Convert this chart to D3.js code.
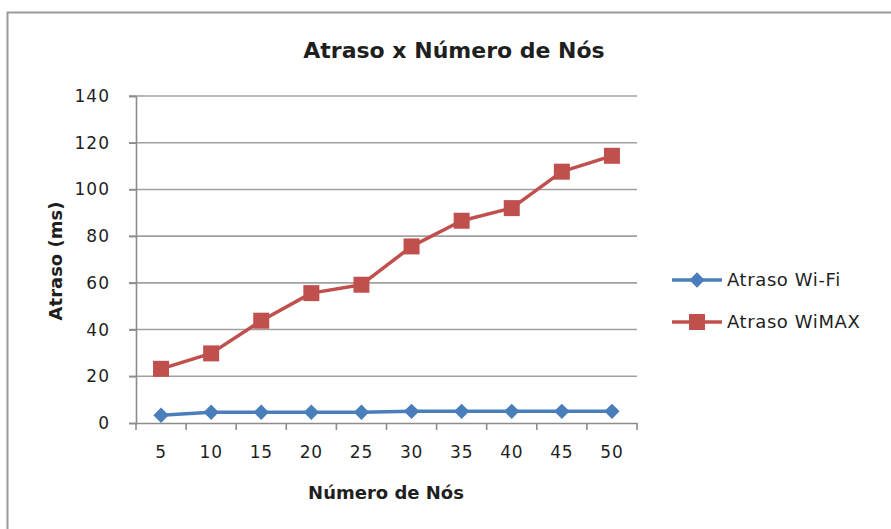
<!DOCTYPE html>
<html><head><meta charset="utf-8">
<script src="https://cdn.jsdelivr.net/npm/d3@7"></script>
<style>
html,body{margin:0;padding:0;background:#fff;}
svg{display:block;}
text{font-family:"DejaVu Sans",sans-serif;fill:#1f1f1f;}
</style></head>
<body><svg id="c" width="891" height="529"></svg>
<script>
const categories = ["5","10","15","20","25","30","35","40","45","50"];
const wifi = [3.3, 4.6, 4.6, 4.6, 4.6, 5.0, 5.0, 5.0, 5.0, 5.0];
const wimax = [23.2, 29.8, 43.8, 55.6, 59.2, 75.6, 86.6, 92.0, 107.6, 114.4];
const yTicks = [0,20,40,60,80,100,120,140];
const seriesNames = ["Atraso Wi-Fi","Atraso WiMAX"];
const chartTitle = "Atraso x Número de Nós";
const xTitle = "Número de Nós";
const yTitle = "Atraso (ms)";

const svg = d3.select("#c");
// outer frame
svg.append("path").attr("d","M891,12.5 H7.5 V529").attr("fill","none").attr("stroke","#9a9a9a").attr("stroke-width",2);

const L=136, R=637, T=96, B=423;
const x = d3.scaleBand().domain(categories).range([L,R]);
const y = d3.scaleLinear().domain([0,140]).range([B,T]);

// gridlines
svg.append("g").selectAll("line").data(yTicks.filter(d=>d>0)).join("line")
  .attr("x1",L-7).attr("x2",R).attr("y1",d=>y(d)).attr("y2",d=>y(d))
  .attr("stroke","#a0a0a0").attr("stroke-width",1.6);

// y axis
const ya = svg.append("g").attr("transform",`translate(${L},0)`)
  .call(d3.axisLeft(y).tickValues(yTicks).tickSize(7).tickPadding(19));
ya.select(".domain").attr("stroke","#8c8c8c").attr("stroke-width",1.6);
ya.selectAll(".tick line").attr("stroke","#8c8c8c").attr("stroke-width",1.6);
ya.selectAll("text").style("font-size","17px").style("letter-spacing","1px").attr("fill","#1f1f1f").style("font-family","DejaVu Sans, sans-serif");

// x axis
const xa = svg.append("g").attr("transform",`translate(0,${B})`)
  .call(d3.axisBottom(x).tickSize(0).tickPadding(23));
xa.select(".domain").attr("stroke","#8c8c8c").attr("stroke-width",1.6);
xa.selectAll("text").style("font-size","17px").style("letter-spacing","0.8px").attr("fill","#1f1f1f").style("font-family","DejaVu Sans, sans-serif");
// boundary ticks
const bounds = categories.map(c=>x(c)).concat([R]);
svg.append("g").selectAll("line").data(bounds).join("line")
  .attr("x1",d=>d).attr("x2",d=>d).attr("y1",B).attr("y2",B+7)
  .attr("stroke","#8c8c8c").attr("stroke-width",1.6);

const cx = c => x(c)+x.bandwidth()/2;
const line = d3.line().x((d,i)=>cx(categories[i])).y(d=>y(d));

const blue="#4a7ebb", red="#c0504d";
svg.append("path").datum(wimax).attr("d",line).attr("fill","none").attr("stroke",red).attr("stroke-width",3.5).attr("stroke-linejoin","round");
svg.append("g").selectAll("rect").data(wimax).join("rect")
  .attr("x",(d,i)=>cx(categories[i])-8).attr("y",d=>y(d)-8).attr("width",16).attr("height",16).attr("fill",red);

svg.append("path").datum(wifi).attr("d",line).attr("fill","none").attr("stroke",blue).attr("stroke-width",3.5).attr("stroke-linejoin","round");
const diamond = d3.symbol().type(d3.symbolDiamond2).size(150);
svg.append("g").selectAll("path").data(wifi).join("path")
  .attr("d",diamond).attr("transform",(d,i)=>`translate(${cx(categories[i])},${y(d)})`).attr("fill",blue);

// legend
const leg = svg.append("g");
const legY=[280,322], cols=[blue,red];
seriesNames.forEach((n,i)=>{
  leg.append("line").attr("x1",672).attr("x2",722).attr("y1",legY[i]).attr("y2",legY[i]).attr("stroke",cols[i]).attr("stroke-width",3.5);
  if(i===0) leg.append("path").attr("d",diamond).attr("transform",`translate(697,${legY[i]})`).attr("fill",cols[i]);
  else leg.append("rect").attr("x",689).attr("y",legY[i]-8).attr("width",16).attr("height",16).attr("fill",cols[i]);
  leg.append("text").attr("x",727).attr("y",legY[i]+6).style("font-size","18px").style("letter-spacing","0.6px").text(n);
});

// titles
svg.append("text").attr("x",454).attr("y",58).attr("text-anchor","middle").style("font-size","22px").style("font-weight","bold").text(chartTitle);
svg.append("text").attr("x",386).attr("y",499).attr("text-anchor","middle").style("font-size","18px").style("font-weight","bold").text(xTitle);
svg.append("text").attr("transform","translate(62,261) rotate(-90)").attr("text-anchor","middle").style("font-size","18px").style("font-weight","bold").text(yTitle);
</script></body></html>
